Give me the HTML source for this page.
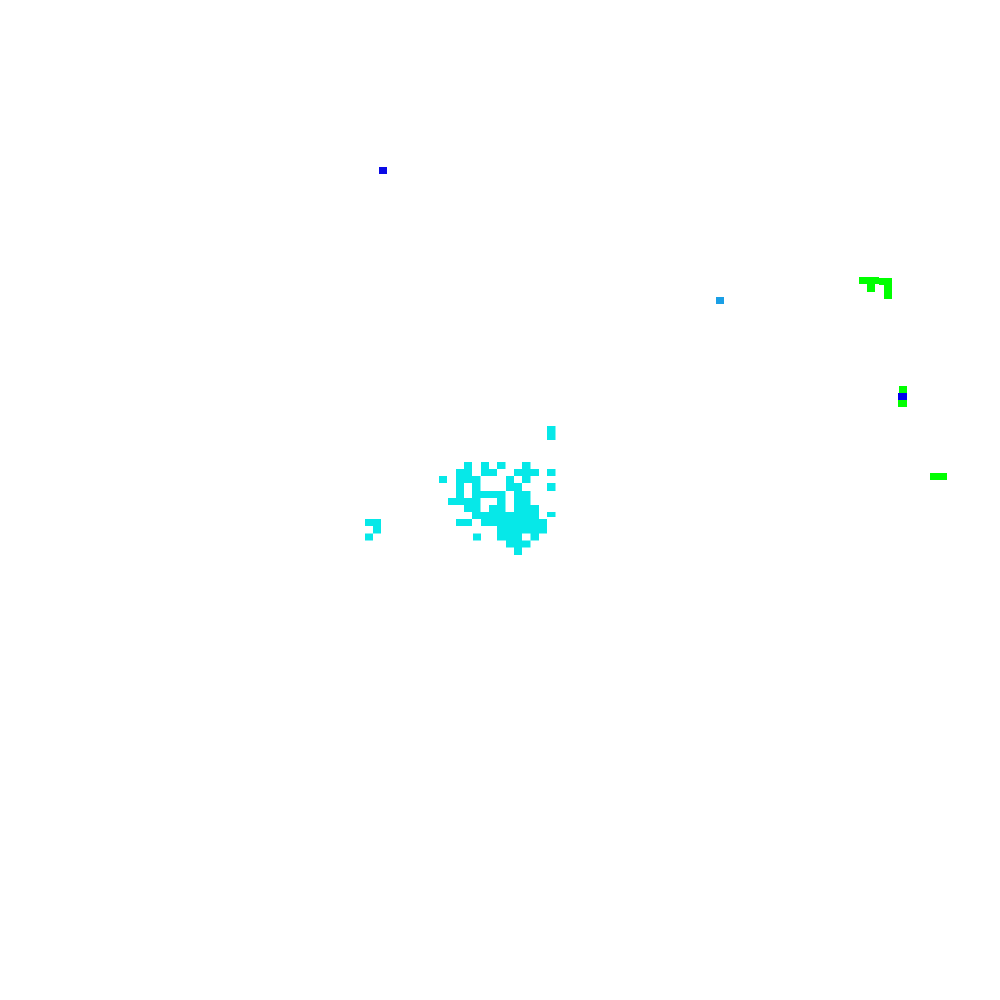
<!DOCTYPE html>
<html><head><meta charset="utf-8"><style>
html,body{margin:0;padding:0;background:#fff;width:1000px;height:1000px;overflow:hidden;position:relative}
svg{position:absolute;shape-rendering:crispEdges}
.d{position:absolute}
</style></head><body>
<div class="d" style="left:379px;top:167px;width:8px;height:7px;background:#0a0ae6"></div>
<div class="d" style="left:716px;top:297px;width:8px;height:7px;background:#1a9fe6"></div>
<svg style="left:360px;top:420px" width="200" height="140" viewBox="0 0 600 420" fill="#06e8e8">
<rect x="561" y="18" width="26" height="42"/>
<rect x="312" y="126" width="24" height="21"/><rect x="363" y="126" width="24" height="21"/><rect x="411" y="126" width="26" height="21"/><rect x="486" y="126" width="26" height="21"/>
<rect x="288" y="147" width="48" height="21"/><rect x="363" y="147" width="48" height="21"/><rect x="462" y="147" width="75" height="21"/><rect x="561" y="147" width="26" height="21"/>
<rect x="237" y="168" width="24" height="21"/><rect x="288" y="168" width="73" height="21"/><rect x="438" y="168" width="24" height="21"/><rect x="486" y="168" width="26" height="21"/>
<rect x="288" y="189" width="24" height="24"/><rect x="336" y="189" width="25" height="24"/><rect x="438" y="189" width="48" height="24"/><rect x="561" y="189" width="26" height="24"/>
<rect x="288" y="213" width="24" height="21"/><rect x="336" y="213" width="101" height="21"/><rect x="462" y="213" width="50" height="21"/>
<rect x="264" y="234" width="97" height="21"/><rect x="411" y="234" width="26" height="21"/><rect x="462" y="234" width="50" height="21"/>
<rect x="312" y="255" width="49" height="21"/><rect x="387" y="255" width="50" height="21"/><rect x="462" y="255" width="75" height="21"/>
<rect x="336" y="276" width="201" height="21"/><rect x="561" y="276" width="26" height="15"/>
<rect x="15" y="297" width="48" height="21"/><rect x="288" y="297" width="48" height="21"/><rect x="363" y="297" width="198" height="21"/>
<rect x="39" y="318" width="24" height="23"/><rect x="411" y="318" width="150" height="23"/>
<rect x="15" y="341" width="24" height="21"/><rect x="339" y="341" width="24" height="21"/><rect x="411" y="341" width="75" height="21"/><rect x="512" y="341" width="25" height="21"/>
<rect x="438" y="362" width="74" height="21"/>
<rect x="462" y="383" width="24" height="22"/>
</svg>
<svg style="left:850px;top:270px" width="110" height="220" viewBox="0 0 330 660">
<g fill="#00ff00">
<rect x="27" y="21" width="60" height="21"/><rect x="87" y="24" width="39" height="21"/><rect x="51" y="42" width="24" height="24"/><rect x="102" y="45" width="24" height="42"/>
<rect x="147" y="348" width="24" height="21"/><rect x="144" y="390" width="27" height="21"/>
<rect x="240" y="609" width="51" height="21"/>
</g>
<rect x="144" y="369" width="27" height="21" fill="#0000ee"/>
</svg>
</body></html>
